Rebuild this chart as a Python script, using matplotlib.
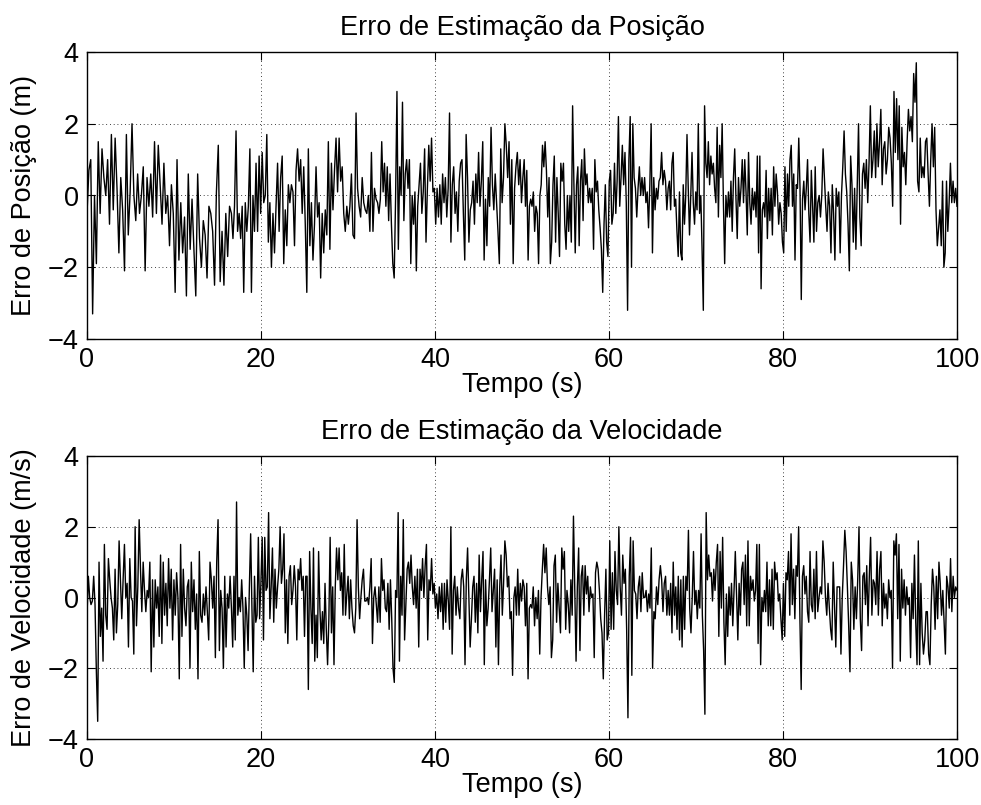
import numpy as np
import matplotlib
matplotlib.use('Agg')
import matplotlib.pyplot as plt

plt.rcParams['font.family'] = ['Liberation Sans', 'DejaVu Sans']

# ── time window of each piece of the signal (s) ──
seg_edges = [0, 16.6, 33.4, 50.1, 66.8, 83.4, 100]

# ── position error (m), read piece by piece ──
pos_seg1 = [-0.5, 0.7, 1.0, -3.3, 0.0, -1.9, 1.5, -0.5, 1.3, 0.5, 0.0, 1.0, -0.8, 1.7, -0.4, 1.6, 0.2, -1.6, 0.5, -0.4,
            -2.1, 1.7, -1.1, 0.1, 2.0, 0.0, -0.7, 0.6, -0.5, 0.0, 0.8, -2.1, 0.5, -0.3, 0.6, -0.6, 1.5, -0.5, 1.4, 0.3,
            -0.8, 0.9, -0.5, 0.0, -1.4, 0.3, -0.5, -2.7, 1.0, -1.8, -0.2, -1.6, -0.6, -2.8, 0.6, -1.5, -0.1, -1.5, -2.8, 0.6,
            -1.2, -2.0, -0.7, -1.1, -2.3, -0.3, -0.5, -1.0, -2.5, 0.1, 1.4, -2.4, -1.0, -2.5, -0.5, -1.7, -0.3]
pos_seg2 = [-0.5, -1.2, -0.3, 1.8, -1.0, -0.5, -1.2, -0.3, -2.7, -0.2, -1.0, -0.3, 1.3, -2.7, 0.0, -1.0, 0.9, -1.0, 1.1, -0.5,
            1.2, -0.2, 0.0, 1.7, -1.3, -0.2, -2.0, -0.5, -1.6, -0.3, 0.9, -1.0, 0.5, 1.1, -1.9, -0.4, -1.4, 0.3, -0.2, 0.3,
            0.1, -1.4, 0.7, 1.3, 0.4, 1.0, -0.5, 0.8, -0.8, -2.7, 1.3, -1.4, -0.2, -1.8, -0.8, 0.8, -0.6, -0.2, -2.3, -0.5,
            -1.6, -0.4, -1.1, 1.5, -1.5, 0.9, -0.4, 0.7, 1.6, 0.1, 1.6, 0.4, 0.8, -0.5, -1.0, -0.3, -0.8, -0.3, 0.6, -1.1,
            -1.2, 2.3, 0.2, -0.3, -0.6, 0.5, -0.2, -0.4, -0.5, 0.0, -1.0, 1.2, -1.0, 0.2, -0.1]
pos_seg3 = [-0.2, -0.5, -0.1, 1.5, 0.1, 0.9, -0.3, 0.8, -0.7, 0.6, -0.8, -1.9, -2.3, -0.1, 2.9, -1.5, 0.8, 0.0, 2.6, -0.7,
            0.6, 1.0, 0.2, 1.0, -1.9, 0.0, -0.8, 0.1, -2.1, -0.3, 0.3, 0.9, -0.5, 0.1, 1.3, -1.3, 0.2, 1.4, 0.4, 1.6,
            0.1, 0.2, -0.8, 0.2, -0.6, 0.3, -0.8, 0.6, -0.2, 0.5, -0.6, 0.2, 2.3, -1.3, 0.3, 0.8, -0.5, 0.1, -1.0, 0.4,
            0.9, 1.0, -0.5, -1.8, 1.7, 0.5, -1.3, -0.4, -0.2, 0.4, -0.8, 0.6, -0.2, 1.2, -0.3, 0.4, 1.5, -1.8, -0.1, -1.4,
            0.5, -0.3, 1.9, 0.3, -0.4, 0.6, -0.2, -1.0, -1.9, 1.3, -0.2, 0.5, 2.0, 1.4, 0.5, 1.5, -0.8, 1.0, -1.9, 0.2,
            0.8, 1.2, 0.3, 1.0, -0.2]
pos_seg4 = [0.5, 1.0, -0.3, 0.7, -1.8, -0.3, -0.1, -0.3, 0.1, -1.0, -0.3, -0.5, -1.9, 0.0, 0.3, 1.4, 0.8, 1.5, 0.7, -0.6,
            0.5, -1.9, -1.3, 0.3, 1.1, -1.3, 0.5, -0.5, -1.7, 0.9, 0.4, 0.9, -0.8, -1.5, 0.0, -1.0, 0.0, -1.3, 2.5, 0.3,
            -1.6, 0.3, 0.8, -1.4, 0.4, 1.0, -0.7, 1.3, 0.3, 0.6, -0.2, 0.2, -0.2, 0.2, -1.5, 1.0, 0.1, 0.4, -0.4, -0.9,
            -1.5, -2.7, -0.8, 0.3, -1.3, -1.7, 0.4, 0.7, -0.8, -0.5, 0.9, -0.5, 0.4, 2.2, -0.3, 0.5, 1.4, 0.3, 1.2, -0.2,
            -3.2, 1.0, 2.2, -2.0, 2.0, 0.5, 0.2, -0.6, 0.2, 0.8, 0.0, 0.5, 0.0, 0.5, -0.2, 0.1, -0.9, 0.3, 2.0, -1.6,
            0.5, -0.4, 0.2, -0.1, 0.4, 0.5, 1.2, 0.3, 0.7, 0.4, -0.4]
pos_seg5 = [0.2, 0.4, -0.4, 0.9, 1.2, -0.3, -0.1, -1.0, -1.7, 0.1, -1.6, -1.8, 0.3, -0.8, 0.0, 1.7, 0.2, -1.1, 0.0, 1.2,
            -0.2, -0.8, 0.1, -0.4, 2.0, -0.5, 0.0, -1.5, -3.2, 2.5, 0.9, 0.5, 1.5, 0.3, 1.1, 0.6, 0.9, 0.2, -0.2, 1.9,
            -0.6, 1.4, 0.5, 2.0, -0.2, -1.9, 0.0, -0.6, 0.1, -0.6, 0.4, -1.0, 0.5, 1.3, -0.1, -1.2, 0.5, -0.3, 0.2, 1.0,
            -0.2, 1.0, 0.1, -1.1, 1.2, -0.2, -0.8, 0.2, -0.4, 0.1, -0.6, 1.1, -1.6, 1.1, -2.6, -0.4, -0.2, -0.6, 0.7, -1.2,
            0.2, -0.7, 0.2, -1.1, 0.8, -0.3, 0.6, 0.1, -0.8, -0.2, -0.5, -1.3, -1.6, 0.8, -1.0, 0.6, -0.3, 1.0, 1.4, -0.3,
            0.6, -1.8, 0.3, 0.2, 1.6, 0.2, -2.9, -0.1, 0.4, -0.4, 0.2, 1.0, -0.5, -1.3, 0.7]
pos_seg6 = [-0.3, -1.3, 0.8, -1.0, -0.2, 0.0, -0.6, 0.0, 1.3, 0.5, -0.3, -1.0, 0.1, -0.3, -1.6, 0.3, -0.5, -1.8, 0.2, -0.3,
            0.1, -1.6, 0.0, 0.8, 1.8, 0.6, 0.1, -0.8, -2.1, 1.1, 0.3, -1.3, 0.2, -1.5, 0.3, 2.0, -0.6, -1.4, 0.6, 0.9,
            0.2, 1.0, -0.2, 0.9, 2.5, 0.5, 1.0, 1.8, 0.5, 2.0, 0.8, 1.5, 2.4, 0.3, 1.3, 1.5, 0.6, 1.0, 1.9, 1.6,
            0.9, -0.3, 2.9, 1.2, 2.7, 1.0, 2.5, -0.8, 1.9, 0.8, 1.2, 0.3, 1.5, 2.4, 1.8, 2.2, 1.5, 3.4, 2.6, 3.7,
            0.4, 0.1, 1.6, 0.5, 0.8, 0.5, 1.5, 1.6, 0.6, -0.3, 1.0, 2.0, 0.8, 1.9, -0.4, -1.4, -0.9, -0.4, -1.4, 0.4,
            -2.0, -1.6, 0.4, -1.0, -0.2, 0.9, -0.2, 0.4, -0.2, 0.2, -0.3]

# ── velocity error (m/s) ──
vel_seg1 = [-0.5, 0.6, 0.0, -0.2, -0.1, 0.6, -0.2, -2.1, -3.5, 1.0, -1.1, -0.3, -1.8, 1.5, -0.5, -0.9, 1.1, 0.5, 0.0, -0.3,
            -1.2, 0.8, -1.0, -0.2, 1.6, 0.5, -0.6, 0.5, 1.5, 0.0, 0.4, -1.4, 1.1, 0.0, -0.1, -1.6, 2.0, -0.8, 0.3, 2.2,
            0.8, -0.4, 1.0, 0.2, -0.4, 0.2, 0.0, 1.0, -2.1, 0.5, -1.4, 0.5, -0.3, 0.3, -1.1, 1.2, -1.3, 1.0, -0.5, 0.4,
            -0.8, 1.1, -0.3, 0.8, -1.2, 0.5, -0.5, 0.7, 0.0, -2.3, 1.5, -1.1, 0.8, -0.3, -0.8, 0.3, 0.5, -2.0, 1.0, -0.4,
            0.5, -0.9, 0.1, -2.3, 1.3, -0.5, -0.7, 0.1, -0.5, 0.3, -0.4, -1.2, 1.0, 0.5, -0.3, 0.6, -1.7, 1.0, 2.2, -1.5,
            0.2, -0.3, -2.0, 0.6, -1.4, 0.1, -0.3, 0.6]
vel_seg2 = [-0.3, -1.4, 0.6, -1.2, 2.7, -0.5, 0.0, -0.4, 0.5, -0.3, -2.0, 0.0, -0.5, -1.5, 0.3, 1.8, -0.3, -2.1, 0.6, -0.7,
            -0.5, 1.7, -0.6, 0.4, 1.7, -1.2, 1.7, 0.2, 0.3, 2.4, -0.6, 0.3, 1.4, -0.7, 0.8, -0.3, 0.3, 0.8, 2.0, 0.4,
            0.8, 1.8, -1.0, 0.5, -1.3, 0.6, 0.9, -0.2, 0.2, 0.9, 0.3, -1.2, 0.8, 0.5, 1.1, 0.2, 0.6, -1.1, 0.6, 0.6,
            -2.6, 1.3, -0.3, -1.3, 1.4, -1.8, -0.5, -1.7, 1.3, -0.3, -1.2, -0.4, -1.3, 0.4, -0.9, -1.9, -0.6, 1.7, -1.0, 0.3,
            -1.9, 0.3, 1.4, 0.5, 1.4, 0.2, 0.7, -0.5, 1.5, -0.5, 0.1, 0.6, -0.6, 0.5, -0.3, -0.8, -1.0, -0.3, 2.2, 0.3,
            -0.6, 0.0, 0.5, 0.8, -0.1, -0.1, 0.0, -0.2, 0.3, 1.1, -1.3, 0.0, 0.3, -0.2]
vel_seg3 = [-0.7, 0.3, -0.7, 1.1, 0.2, 0.5, -0.3, -0.4, 0.4, -0.9, 0.5, -0.6, -2.0, -2.4, 0.2, 0.0, 2.4, -1.8, 0.6, -0.5,
            2.2, -1.2, -0.2, 0.8, 1.0, 0.4, 1.2, 0.3, -0.2, 0.6, -0.3, 0.8, -1.4, 0.8, 0.2, 1.1, 0.0, 0.9, 1.5, -1.2,
            0.5, 0.2, 1.1, 0.1, 0.4, -0.3, 0.1, -0.6, 0.3, -0.4, 0.4, -0.9, 0.4, -0.7, 0.5, -0.1, -0.9, 2.0, -1.6, 0.2,
            0.6, -0.5, 0.3, -0.3, -0.6, 0.5, 0.8, 0.3, -1.9, 0.5, 1.4, 0.0, -1.4, -0.6, 0.3, 0.6, -0.7, 0.4, -1.0, 1.2,
            -0.4, 0.5, 1.3, -1.9, 0.5, -0.8, -0.3, 0.5, 1.4, -0.4, 0.2, 0.8, -1.4, 0.5, -1.9, 0.3, 1.2, -0.5, 0.4, 1.6,
            1.2, 0.3, 0.6, -0.6, -0.4, -2.2, 0.0, 0.3, -0.5, 0.8, -0.5, 0.4, -0.1]
vel_seg4 = [0.5, 0.3, -0.8, 0.4, -2.3, -0.3, -0.2, -0.3, 0.3, -0.8, 0.0, -0.6, 0.2, -1.6, 0.0, 0.8, 1.5, 0.7, 1.4, 0.3,
            -0.2, 0.3, -1.7, -1.2, 0.9, 1.2, -0.7, 0.4, -0.3, -1.0, 1.4, 0.8, 1.3, -0.9, 0.2, -0.2, -1.0, 0.5, -0.5, 2.3,
            0.2, -1.8, 0.3, 1.4, -1.5, 0.6, 0.9, -0.5, 0.9, 0.1, 0.6, -0.4, 0.3, 0.0, 0.1, -1.7, 0.7, 1.0, 0.8, 0.2,
            -0.6, -1.0, -2.3, -0.5, 0.8, -1.2, -1.0, 1.6, -0.9, 0.7, -0.9, 1.3, 0.2, -0.2, 2.0, 0.3, -0.5, 1.2, 0.4, 0.8,
            -0.9, -3.4, 0.6, 1.7, -2.2, 1.6, 0.2, 0.1, -0.6, 0.3, 0.6, -0.4, 0.7, 0.0, 0.0, 0.2, -0.4, 0.1, -0.3, 1.4,
            -2.0, -0.4, -0.6, 0.3, -0.2, 0.5, 0.9, 0.5, -0.4, 0.4, 0.6, -0.5]
vel_seg5 = [0.2, -0.5, 0.4, -1.0, 1.0, -0.5, 0.3, -0.9, 0.6, -1.2, 0.5, -1.4, 0.6, -0.9, 0.6, 0.2, 1.9, -0.3, -1.0, 0.0,
            1.3, -0.2, 0.2, -0.6, 0.2, -0.3, 1.8, -0.5, -1.5, -3.3, 2.4, 0.5, 1.2, 0.6, 0.7, -0.1, 0.8, 0.2, 1.0, 1.5,
            -1.1, 1.3, -0.3, 1.7, -0.7, -1.9, 0.1, -1.1, 0.3, -0.5, 0.4, -0.8, 0.2, 1.3, 0.1, -1.2, 0.4, -0.5, 0.8, 1.0,
            -0.2, 1.2, -0.8, 1.6, -0.8, 0.6, 0.2, 0.5, -0.1, 0.2, 1.5, -1.3, 1.5, -1.9, 0.0, -0.4, 0.2, -0.4, 1.0, -0.8,
            0.5, -0.8, 0.8, -0.9, 1.0, 0.5, 0.7, -0.1, 0.1, -0.6, -1.2, 0.4, -1.1, 0.7, 0.5, 1.3, -0.5, 1.8, -0.2, 0.8,
            -0.6, 0.9, 0.6, 2.0, -0.6, -2.6, 0.6, 0.9, 0.1, 0.6, -0.4, -0.7, 1.3, -0.2]
vel_seg6 = [-0.4, 0.8, -0.6, 1.3, -0.4, 0.0, 0.3, 0.1, 1.6, 1.0, 0.0, -0.5, 0.4, -0.3, -0.9, -1.2, 1.0, -0.2, -1.4, 0.3,
            0.3, 0.3, -1.6, 0.0, 0.9, 1.9, 1.3, 0.3, -0.8, -2.1, 1.0, 0.5, -0.9, 0.3, -0.6, 0.5, 2.0, -0.6, -1.5, 0.6,
            0.7, -0.2, 0.9, -0.8, 0.6, 1.7, -0.5, 0.5, 0.4, -0.2, 1.3, -0.5, 0.8, 1.3, -0.8, 0.4, -0.3, 0.1, -0.6, 0.5,
            0.0, 0.2, -2.0, 1.6, 1.2, 1.8, -0.6, 1.5, -1.8, 0.8, -0.3, 0.5, -0.5, 0.3, -0.2, 0.0, -1.7, 0.4, -0.6, 1.2,
            -0.7, -1.9, 1.6, -1.9, 0.4, -1.0, -1.6, -1.2, -0.4, -0.4, -1.6, -1.9, -0.2, 0.8, 0.3, -0.9, 0.6, -0.6, 1.0, 0.4,
            -0.5, 0.2, -0.7, -1.6, 0.6, 0.3, -0.3, 1.1, -0.4, 0.6, 0.0, 0.3, 0.2]

pos_segs = [pos_seg1, pos_seg2, pos_seg3, pos_seg4, pos_seg5, pos_seg6]
vel_segs = [vel_seg1, vel_seg2, vel_seg3, vel_seg4, vel_seg5, vel_seg6]


def join(segs):
    # each piece is uniformly sampled inside its own time window
    t, y = [], []
    last = len(segs) - 1
    for i, s in enumerate(segs):
        t.append(np.linspace(seg_edges[i], seg_edges[i + 1], len(s), endpoint=(i == last)))
        y.append(np.array(s))
    return np.concatenate(t), np.concatenate(y)


t_pos, e_pos = join(pos_segs)
t_vel, e_vel = join(vel_segs)

W, H = 981, 805
fig = plt.figure(figsize=(W / 100, H / 100), dpi=100)
ax1 = fig.add_axes([87 / W, (H - 339) / H, 870 / W, 287 / H])
ax2 = fig.add_axes([87 / W, (H - 739) / H, 870 / W, 283 / H])

FS = 19.5
panels = [
    (ax1, t_pos, e_pos, 'Erro de Estimação da Posição', 'Erro de Posição (m)'),
    (ax2, t_vel, e_vel, 'Erro de Estimação da Velocidade', 'Erro de Velocidade (m/s)'),
]
for ax, t, y, title, ylabel in panels:
    ax.plot(t, y, color='black', linewidth=1.0)
    ax.set_xlim(0, 100)
    ax.set_ylim(-4, 4)
    ax.set_xticks([0, 20, 40, 60, 80, 100])
    ax.set_yticks([-4, -2, 0, 2, 4])
    ax.grid(True, color='black', linestyle=(0, (1, 3.5)), linewidth=0.6)
    ax.tick_params(direction='in', top=True, right=True, length=6, width=0.8,
                   labelsize=FS, pad=6)
    for sp in ax.spines.values():
        sp.set_linewidth(1.0)
    ax.set_title(title, fontsize=FS, pad=12)
    ax.set_xlabel('Tempo (s)', fontsize=FS, labelpad=-1)
    ax.set_ylabel(ylabel, fontsize=FS, labelpad=8)

fig.savefig('out.png', dpi=100)
